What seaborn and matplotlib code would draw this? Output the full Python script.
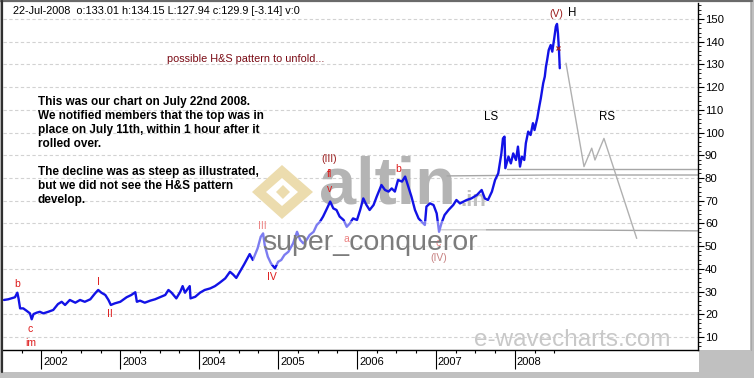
import matplotlib
matplotlib.use("Agg")
import matplotlib.pyplot as plt
import matplotlib.transforms as mtransforms
from matplotlib.patches import Rectangle, Polygon
from matplotlib.lines import Line2D
import pandas as pd
import seaborn as sns

# ------------------------------------------------------------------ data
years = [2001.526, 2001.58, 2001.62, 2001.665, 2001.695, 2001.71, 2001.73, 2001.77, 2001.81,
         2001.855, 2001.877, 2001.90, 2001.94, 2001.98, 2002.024, 2002.087, 2002.15, 2002.21,
         2002.257, 2002.30, 2002.36, 2002.43, 2002.49, 2002.55, 2002.62, 2002.68, 2002.72,
         2002.76, 2002.81, 2002.85, 2002.88, 2002.93, 2003.00, 2003.08, 2003.14, 2003.19,
         2003.21, 2003.25, 2003.31, 2003.38, 2003.44, 2003.50, 2003.57, 2003.61, 2003.65,
         2003.71, 2003.76, 2003.79, 2003.82, 2003.85, 2003.88, 2003.89, 2003.95, 2004.01,
         2004.07, 2004.14, 2004.20, 2004.26, 2004.33, 2004.39, 2004.43, 2004.47, 2004.52,
         2004.57, 2004.60, 2004.64, 2004.68, 2004.74, 2004.78, 2004.81, 2004.83, 2004.87,
         2004.91, 2004.96, 2005.00, 2005.04, 2005.08, 2005.13, 2005.19, 2005.24, 2005.28,
         2005.32, 2005.36, 2005.40, 2005.45, 2005.49, 2005.53, 2005.57, 2005.62, 2005.66,
         2005.70, 2005.74, 2005.78, 2005.83, 2005.87, 2005.91, 2005.95, 2006.00, 2006.04,
         2006.08, 2006.12, 2006.16, 2006.21, 2006.25, 2006.31, 2006.355, 2006.40, 2006.44,
         2006.48, 2006.52, 2006.57, 2006.61, 2006.65, 2006.69, 2006.735, 2006.78, 2006.82,
         2006.86, 2006.88, 2006.925, 2006.97, 2007.01, 2007.04, 2007.07, 2007.11, 2007.16,
         2007.22, 2007.26, 2007.305, 2007.35, 2007.39, 2007.45, 2007.52, 2007.58, 2007.62,
         2007.66, 2007.71, 2007.75, 2007.79, 2007.81, 2007.83, 2007.85, 2007.87, 2007.88,
         2007.92, 2007.95, 2007.98, 2008.015, 2008.04, 2008.066, 2008.09, 2008.12, 2008.14,
         2008.17, 2008.20, 2008.23, 2008.25, 2008.285, 2008.31, 2008.33, 2008.36, 2008.38,
         2008.395, 2008.41, 2008.43, 2008.455, 2008.475, 2008.50, 2008.52, 2008.535,
         2008.547, 2008.56, 2008.57]
prices = [26.3, 26.6, 27.0, 27.5, 29.5, 27.0, 22.6, 22.6, 21.6,
          20.4, 17.8, 20.1, 20.7, 21.1, 20.4, 21.1, 21.9, 24.5,
          25.5, 24.1, 26.3, 25.1, 26.3, 25.5, 26.6, 29.2, 30.7,
          29.5, 28.5, 26.3, 24.1, 24.8, 25.5, 27.5, 28.5, 29.7,
          25.5, 26.0, 25.1, 26.0, 26.6, 27.5, 28.5, 30.7, 29.5,
          27.0, 29.9, 32.4, 29.5, 31.0, 32.4, 27.0, 27.7, 29.5,
          30.7, 31.4, 32.4, 33.9, 35.8, 38.7, 37.5, 36.0, 39.0,
          42.0, 43.9, 46.5, 43.9, 49.0, 54.1, 55.6, 50.5, 45.3,
          42.4, 40.2, 43.1, 43.9, 46.1, 47.5, 51.2, 56.3, 52.7,
          51.2, 52.7, 54.9, 56.3, 59.3, 60.7, 63.0, 66.6, 69.6,
          66.6, 65.9, 63.0, 61.5, 58.5, 60.0, 62.2, 61.5, 65.9,
          71.0, 68.1, 65.9, 68.1, 71.8, 76.9, 74.7, 74.0, 75.4,
          74.0, 79.1, 78.4, 80.6, 76.2, 71.8, 65.9, 62.2, 60.7,
          59.3, 67.4, 68.8, 68.1, 64.4, 56.3, 60.0, 63.7, 65.9,
          68.1, 70.3, 68.8, 69.6, 70.3, 71.0, 72.5, 74.7, 71.0,
          70.3, 74.0, 79.1, 82.0, 86.4, 90.8, 97.4, 98.2, 84.3,
          89.4, 86.4, 90.8, 87.9, 93.8, 85.0, 89.4, 87.9, 95.3,
          100.4, 98.9, 104.1, 101.1, 106.3, 111.4, 115.1, 121.7, 124.6,
          129.0, 131.9, 136.3, 138.5, 135.6, 141.5, 146.6, 147.8,
          143.7, 136.3, 128.3]

# projected head-and-shoulders path
proj_years = [2008.649, 2008.877, 2008.975, 2009.016, 2009.13, 2009.545]
proj_prices = [130.5, 85.0, 93.1, 87.9, 97.4, 53.4]

# horizontal support / neck lines
neck1_years = [2007.90, 2010.40]
neck1_prices = [83.8, 83.8]
neck2_years = [2007.14, 2008.45, 2010.40]
neck2_prices = [80.9, 81.3, 81.3]
neck3_years = [2007.05, 2008.70, 2010.40]
neck3_prices = [57.2, 57.1, 56.7]

marker_years = [2008.55]
marker_prices = [137.0]

wave_labels = ["b", "c", "im", "I", "II", "III", "IV", "fl", "v", "a", "b", "c"]
wave_years = [2001.695, 2001.86, 2001.86, 2002.725, 2002.865, 2004.80, 2004.92,
              2005.65, 2005.65, 2005.86, 2006.52, 2007.03]
wave_prices = [33.3, 13.5, 7.4, 34.3, 20.1, 58.9, 36.5, 81.7, 75.0, 53.0, 83.9, 51.5]

major_labels = ["(III)", "(IV)", "(V)"]
major_years = [2005.65, 2007.03, 2008.53]
major_prices = [88.3, 44.6, 152.2]

pattern_labels = ["LS", "H", "RS"]
pattern_years = [2007.70, 2008.725, 2009.165]
pattern_prices = [106.7, 152.7, 106.7]

year_ticks = [2002, 2003, 2004, 2005, 2006, 2007, 2008]
year_labels = ["2002", "2003", "2004", "2005", "2006", "2007", "2008"]
price_ticks = [10, 20, 30, 40, 50, 60, 70, 80, 90, 100, 110, 120, 130, 140, 150]

header_text = "22-Jul-2008  o:133.01 h:134.15 L:127.94 c:129.9 [-3.14] v:0"
note_text = "possible H&S pattern to unfold..."
comment_lines = ["This was our chart on July 22nd 2008.",
                 "We notified members that the top was in",
                 "place on July 11th, within 1 hour after it",
                 "rolled over.",
                 "",
                 "The decline was as steep as illustrated,",
                 "but we did not see the H&S pattern",
                 "develop."]

# ------------------------------------------------------------------ style
sns.set_theme(style="white")
plt.rcParams["font.family"] = ["Liberation Sans", "DejaVu Sans"]

W, H = 754, 378
fig = plt.figure(figsize=(W / 100, H / 100), dpi=100)
fig.patch.set_facecolor("#c0c0c0")


def fx(px):
    return px / W


def fy(py):
    return 1 - py / H


# white chart panels
fig.patches.append(Rectangle((fx(2), fy(350)), fx(750) - fx(2), fy(2) - fy(350),
                             transform=fig.transFigure, facecolor="white",
                             edgecolor="none", zorder=-2))
fig.patches.append(Rectangle((fx(2), fy(372)), fx(699) - fx(2), fy(350) - fy(372),
                             transform=fig.transFigure, facecolor="white",
                             edgecolor="none", zorder=-2))
fig.lines.append(Line2D([fx(0), fx(752)], [fy(1.2), fy(1.2)], transform=fig.transFigure,
                        color="#6a6a6a", lw=1.6, zorder=5))
fig.lines.append(Line2D([fx(2.2), fx(2.2)], [fy(1), fy(372)], transform=fig.transFigure,
                        color="#303030", lw=1.6, zorder=5))
fig.lines.append(Line2D([fx(750.5), fx(750.5)], [fy(2), fy(350)], transform=fig.transFigure,
                        color="#a8a8a8", lw=0.8, zorder=5))

ax = fig.add_axes([fx(3), fy(350), fx(698) - fx(3), fy(3) - fy(350)])
ax.set_facecolor("white")
ax.set_xlim(2001.5133, 2010.322)
ax.set_ylim(4.28, 157.0)

# grid
for v in price_ticks:
    ax.axhline(v, color="#d2d2d2", lw=0.8, ls=(0, (3, 2.2)), zorder=0.5)

# watermark logo + altin (behind data)
logo_outer = [(282, 165), (313, 192), (282, 219), (252, 192)]
logo_inner = [(282, 178), (298, 192), (282, 206), (266, 192)]
logo_core = [(283, 185), (290, 192), (283, 199), (276, 192)]
for pts, col in [(logo_outer, "#ecdcae"), (logo_inner, "#ffffff"), (logo_core, "#ecdcae")]:
    ax.add_patch(Polygon([(fx(a), fy(b)) for a, b in pts], closed=True,
                         transform=fig.transFigure, facecolor=col, edgecolor="none",
                         zorder=0.8))
ax.text(fx(319), fy(204), "altin", transform=fig.transFigure, fontsize=48,
        fontweight="bold", color="#b4b4b4", ha="left", va="baseline", zorder=0.9)
ax.text(fx(460), fy(206), ".in", transform=fig.transFigure, fontsize=16,
        fontweight="bold", color="#c0c0c0", ha="left", va="baseline", zorder=0.9)

# neck lines and projection
for xs, ys in [(neck1_years, neck1_prices), (neck2_years, neck2_prices),
               (neck3_years, neck3_prices)]:
    sns.lineplot(x=xs, y=ys, ax=ax, color="#a6a6a6", lw=1.0, sort=False,
                 estimator=None, zorder=1)
sns.lineplot(x=proj_years, y=proj_prices, ax=ax, color="#b0b0b0", lw=1.0, sort=False,
             estimator=None, zorder=1)

# price line
df = pd.DataFrame({"year": years, "price": prices})
sns.lineplot(data=df, x="year", y="price", ax=ax, color="#1212e6", lw=1.7, sort=False,
             estimator=None, zorder=2)
ax.plot(marker_years, marker_prices, marker="x", ms=3.5, mew=0.9, color="#a02020",
        ls="none", zorder=3)

# wave labels
for lab, xv, yv in zip(wave_labels, wave_years, wave_prices):
    ax.text(xv, yv, lab, color="#dd1a1a", fontsize=7.5, ha="center", va="center", zorder=3)
for lab, xv, yv in zip(major_labels, major_years, major_prices):
    ax.text(xv, yv, lab, color="#9a1c1c", fontsize=7.5, ha="center", va="center", zorder=3)
for lab, xv, yv in zip(pattern_labels, pattern_years, pattern_prices):
    ax.text(xv, yv, lab, color="black", fontsize=8.3, ha="center", va="center", zorder=3)

# overlay watermark
ax.text(fx(262), fy(250), "super_conqueror", transform=fig.transFigure, fontsize=20.5,
        color="#7c7c7c", ha="left", va="baseline", zorder=4,
        bbox=dict(boxstyle="square,pad=0.3", facecolor="white", edgecolor="none", alpha=0.45))
ax.text(fx(474), fy(346), "e-wavecharts.com", transform=fig.transFigure, fontsize=17.5,
        color="#c8c8c8", ha="left", va="baseline", zorder=4)

# axes styling
for side in ["left", "top"]:
    ax.spines[side].set_visible(False)
for side in ["right", "bottom"]:
    ax.spines[side].set_visible(True)
    ax.spines[side].set_color("black")
    ax.spines[side].set_linewidth(1.0)
ax.set_xlabel("")
ax.set_ylabel("")

ax.yaxis.tick_right()
ax.set_yticks(price_ticks)
ax.set_yticklabels([str(v) for v in price_ticks])
ax.set_yticks(list(range(6, 157, 2)), minor=True)
ax.tick_params(axis="y", which="major", right=True, left=False, direction="out",
               length=4.2, width=0.8, color="black", labelsize=8.2, pad=0.8,
               labelcolor="black")
ax.tick_params(axis="y", which="minor", right=True, left=False, direction="out",
               length=2.0, width=0.6, color="black")

ax.set_xticks(year_ticks)
ax.set_xticklabels([""] * len(year_ticks))
quarters = [2001.75] + [y + q for y in year_ticks for q in (0.25, 0.5, 0.75)]
quarters = [q for q in quarters if q <= 2008.5]
ax.set_xticks(quarters, minor=True)
ax.tick_params(axis="x", which="major", bottom=True, direction="out", length=14,
               width=0.8, color="black")
ax.tick_params(axis="x", which="minor", bottom=True, direction="out", length=2.2,
               width=0.8, color="black")
ax.grid(False)

trans = mtransforms.blended_transform_factory(ax.transData, ax.transAxes)
off = mtransforms.ScaledTranslation(2 / 100, -12 / 100, fig.dpi_scale_trans)
for xv, lab in zip(year_ticks, year_labels):
    ax.text(xv, 0, lab, transform=trans + off, fontsize=8, ha="left", va="center",
            color="black", clip_on=False)

# figure texts
fig.text(fx(12.5), fy(11.5), header_text, fontsize=7.8, color="black",
         ha="left", va="center")
fig.text(fx(167), fy(59), note_text, fontsize=7.8, color="#7a0a14", ha="left", va="center")
line_y = [101.7, 116.0, 130.2, 144.2, 158.2, 172.3, 186.3, 200.3]
for txt, yy in zip(comment_lines, line_y):
    if txt:
        fig.text(fx(37.5), fy(yy), txt, fontsize=8.5, fontweight="bold", color="black",
                 ha="left", va="center")

fig.savefig("out.png", dpi=100, facecolor=fig.get_facecolor())
